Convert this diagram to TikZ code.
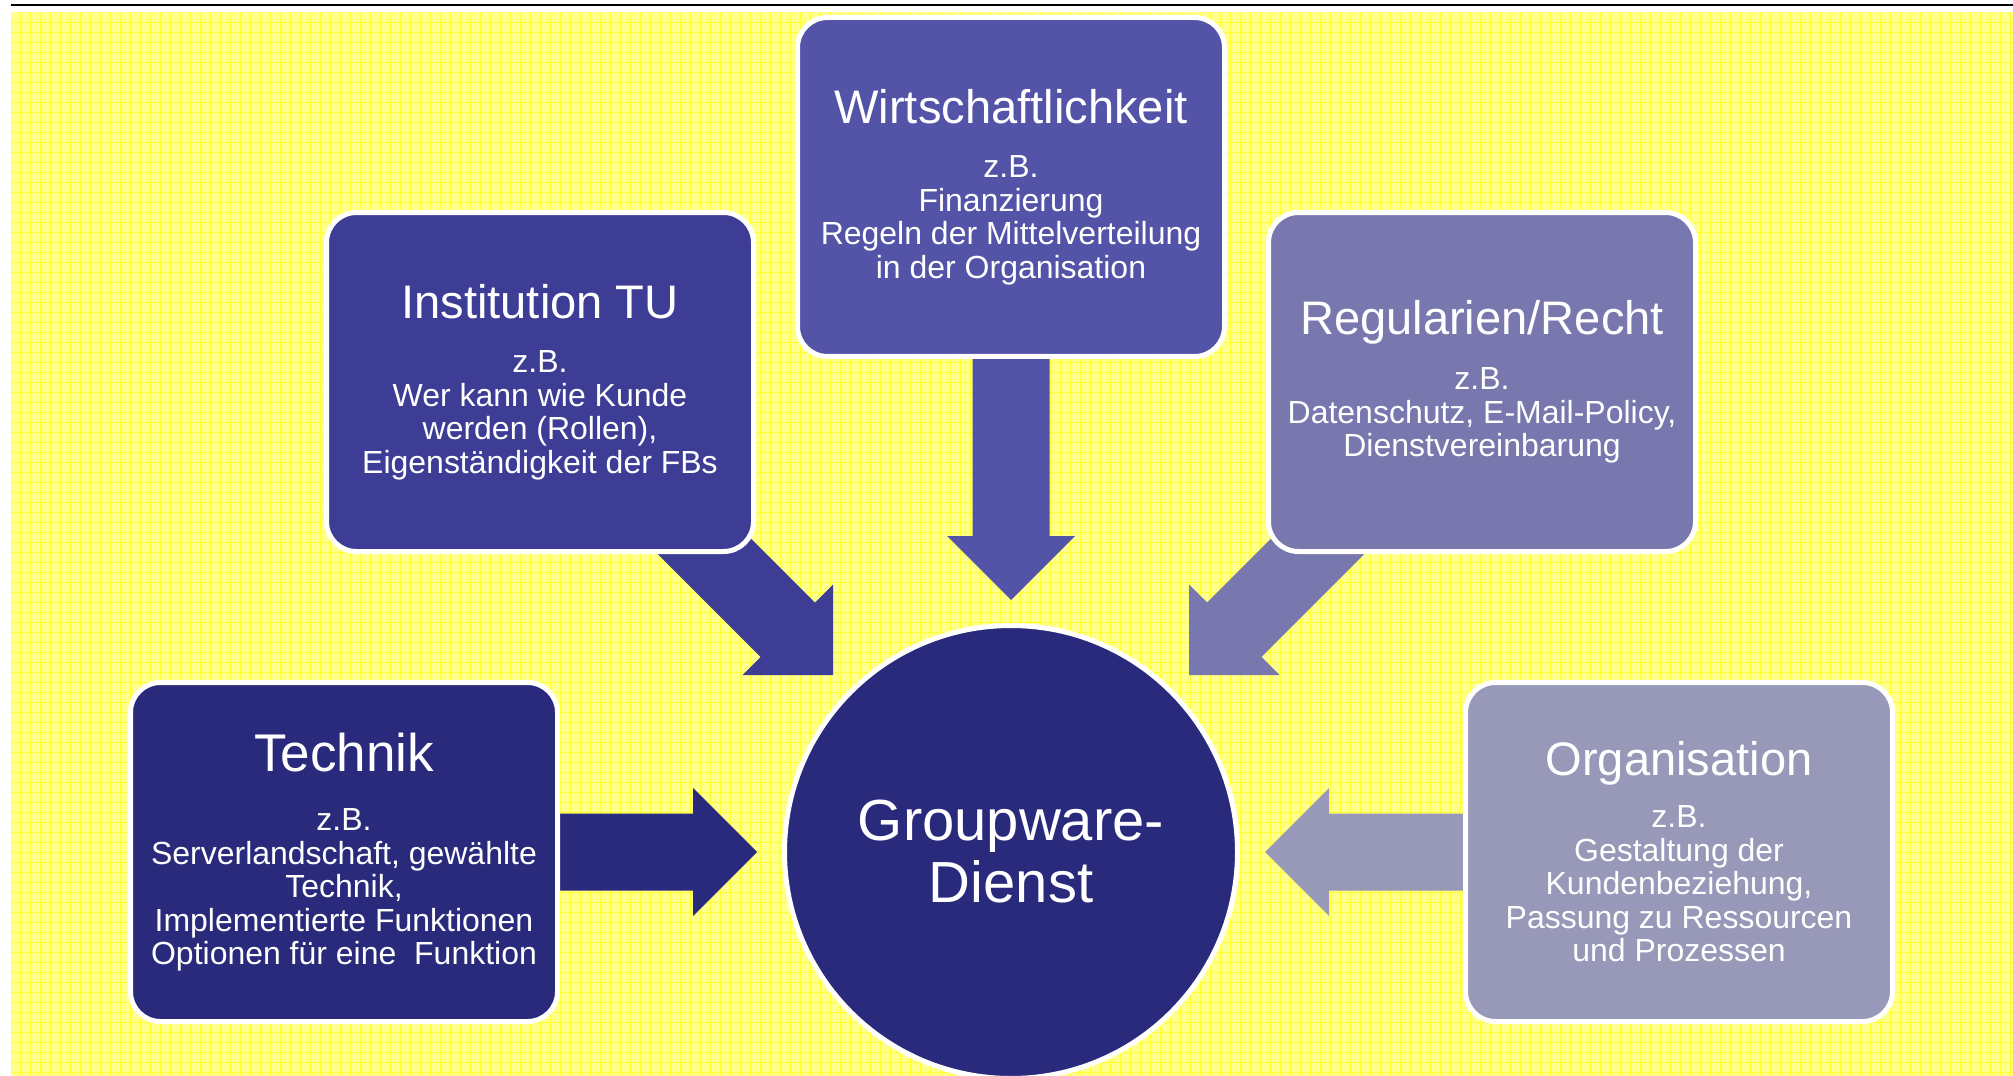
\documentclass[tikz,border=0pt]{standalone}
\usepackage{fontspec}
\setmainfont{Liberation Sans}
\definecolor{bgyellow}{RGB}{255,255,140}
\definecolor{gridyellow}{RGB}{255,255,50}
\definecolor{techblue}{RGB}{41,42,124}
\definecolor{instblue}{RGB}{61,61,150}
\definecolor{wirtblue}{RGB}{83,83,167}
\definecolor{regblue}{RGB}{120,119,174}
\definecolor{orgblue}{RGB}{152,152,185}
\tikzset{
	factorbox/.style={rectangle, rounded corners=3mm, draw=white, line width=.5mm,
		minimum width=42.7mm, minimum height=33.9mm, inner sep=0pt,
		align=center, text=white, font=\fontsize{9.1pt}{9.53pt}\selectfont},
	corecircle/.style={circle, draw=white, line width=.5mm, fill=techblue,
		minimum size=45.3mm, inner sep=0pt,
		align=center, text=white, font=\fontsize{16.5pt}{17.64pt}\selectfont},
	gridline/.style={gridyellow, line width=.09mm},
}
\newcommand{\boxtitle}[1]{{\fontsize{13.4pt}{13.4pt}\selectfont #1}}
\begin{document}
\begin{tikzpicture}[x=.1mm, y=-.1mm]
	\useasboundingbox (0, 0) rectangle (2013, 1076);

	% background
	\fill[bgyellow] (11, 12) rectangle (2013, 1076);
	\foreach \gx in {20, 30, ..., 2010}
		\draw[gridline] (\gx, 12) -- (\gx, 1076);
	\foreach \gy in {22, 32, ..., 1072}
		\draw[gridline] (11, \gy) -- (2013, \gy);
	\draw[line width=.2mm] (11, 5) -- (2013, 5);

	% arrow tips
	\coordinate (techtip) at (757, 852);
	\coordinate (insttip) at (833, 675);
	\coordinate (wirttip) at (1011, 600);
	\coordinate (regtip) at (1189, 675);
	\coordinate (orgtip) at (1265, 852);

	% arrows
	\begin{scope}[shift={(techtip)}]
		\fill[techblue] (0, 0) -- (-64, 64) -- (-64, 38.5) -- (-217, 38.5) -- (-217, -38.5) -- (-64, -38.5) -- (-64, -64) -- cycle;
	\end{scope}
	\begin{scope}[shift={(insttip)}, rotate=-45]
		\fill[instblue] (0, 0) -- (-64, 64) -- (-64, 38.5) -- (-300, 38.5) -- (-300, -38.5) -- (-64, -38.5) -- (-64, -64) -- cycle;
	\end{scope}
	\begin{scope}[shift={(wirttip)}, rotate=-90]
		\fill[wirtblue] (0, 0) -- (-64, 64) -- (-64, 38.5) -- (-270, 38.5) -- (-270, -38.5) -- (-64, -38.5) -- (-64, -64) -- cycle;
	\end{scope}
	\begin{scope}[shift={(regtip)}, rotate=-135]
		\fill[regblue] (0, 0) -- (-64, 64) -- (-64, 38.5) -- (-300, 38.5) -- (-300, -38.5) -- (-64, -38.5) -- (-64, -64) -- cycle;
	\end{scope}
	\begin{scope}[shift={(orgtip)}, rotate=180]
		\fill[orgblue] (0, 0) -- (-64, 64) -- (-64, 38.5) -- (-217, 38.5) -- (-217, -38.5) -- (-64, -38.5) -- (-64, -64) -- cycle;
	\end{scope}

	% boxes
	\node[factorbox, fill=wirtblue] (wirt) at (1011, 187)
		{\boxtitle{Wirtschaftlichkeit}\\[6.1pt] z.B.\\ Finanzierung\\ Regeln der Mittelverteilung\\ in der Organisation};
	\node[factorbox, fill=instblue] (inst) at (540, 382)
		{\boxtitle{Institution TU}\\[6.1pt] z.B.\\ Wer kann wie Kunde\\ werden (Rollen),\\ Eigenständigkeit der FBs};
	\node[factorbox, fill=regblue] (reg) at (1482, 382)
		{\boxtitle{Regularien/Recht}\\[6.1pt] z.B.\\ Datenschutz, E-Mail-Policy,\\ Dienstvereinbarung};
	\node[factorbox, fill=techblue] (tech) at (344, 852)
		{{\fontsize{15.1pt}{15.1pt}\selectfont Technik}\\[7.5pt] z.B.\\ Serverlandschaft, gewählte\\ Technik,\\ Implementierte Funktionen\\ Optionen für eine~~Funktion};
	\node[factorbox, fill=orgblue] (org) at (1679, 852)
		{\boxtitle{Organisation}\\[5.3pt] z.B.\\ Gestaltung der\\ Kundenbeziehung,\\ Passung zu Ressourcen\\ und Prozessen};

	\node[corecircle] (dienst) at (1011, 852) {Groupware-\\Dienst};
\end{tikzpicture}
\end{document}
